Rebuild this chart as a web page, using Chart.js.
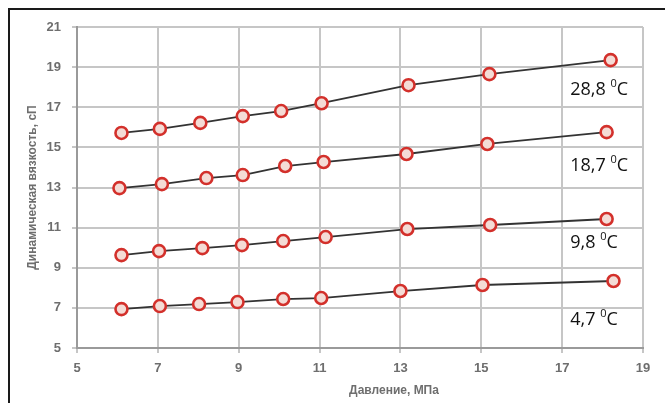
<!DOCTYPE html>
<html>
<head>
<meta charset="utf-8">
<script src="https://cdn.jsdelivr.net/npm/chart.js@4.4.1/dist/chart.umd.min.js"></script>
<style>
  html, body { margin: 0; padding: 0; background: #fff; }
  #wrap { position: relative; width: 665px; height: 403px; }
</style>
</head>
<body>
<div id="wrap"><canvas id="chart" width="665" height="403"></canvas></div>
<script>
// давление, МПа и вязкость, сП для каждой температуры
const temps = ['28,8', '18,7', '9,8', '4,7'];

const press288 = [6.1, 7.05, 8.05, 9.1, 10.05, 11.05, 13.2, 15.2, 18.2];
const visc288 = [15.72, 15.92, 16.22, 16.56, 16.81, 17.2, 18.1, 18.65, 19.35];

const press187 = [6.05, 7.1, 8.2, 9.1, 10.15, 11.1, 13.15, 15.15, 18.1];
const visc187 = [12.97, 13.17, 13.47, 13.62, 14.07, 14.27, 14.67, 15.17, 15.76];

const press98 = [6.1, 7.03, 8.1, 9.08, 10.1, 11.15, 13.17, 15.22, 18.1];
const visc98 = [9.63, 9.83, 9.98, 10.13, 10.33, 10.53, 10.93, 11.13, 11.43];

const press47 = [6.1, 7.05, 8.02, 8.97, 10.1, 11.04, 13.0, 15.03, 18.27];
const visc47 = [6.94, 7.09, 7.19, 7.29, 7.44, 7.49, 7.84, 8.14, 8.34];

// где стоят подписи температур (в единицах осей)
const labelPress = 17.2;
const labelVisc = [17.86, 14.07, 10.23, 6.39];

const xTicks = [5, 7, 9, 11, 13, 15, 17, 19];
const yTicks = [5, 7, 9, 11, 13, 15, 17, 19, 21];

const toPoints = (xs, ys) => xs.map((x, i) => ({ x: x, y: ys[i] }));
const allSeries = [
  toPoints(press288, visc288),
  toPoints(press187, visc187),
  toPoints(press98, visc98),
  toPoints(press47, visc47)
];

const datasets = allSeries.map((pts, i) => ({
  label: temps[i] + ' °C',
  data: pts,
  showLine: true,
  borderColor: '#333333',
  borderWidth: 1.8,
  tension: 0,
  pointRadius: 6,
  pointBorderWidth: 2.6,
  pointBorderColor: '#d3302b',
  pointBackgroundColor: '#f4dcd6'
}));

// рамка, подписи осей и температур
const decorPlugin = {
  id: 'decor',
  beforeDraw(chart) {
    const ctx = chart.ctx;
    ctx.save();
    ctx.strokeStyle = '#1a1a1a';
    ctx.lineWidth = 2;
    ctx.beginPath();
    ctx.moveTo(9, 403);
    ctx.lineTo(9, 9);
    ctx.lineTo(665, 9);
    ctx.stroke();
    ctx.restore();
  },
  afterDraw(chart) {
    const ctx = chart.ctx;
    const xs = chart.scales.x;
    const ys = chart.scales.y;
    ctx.save();
    ctx.fillStyle = '#6e6e6e';
    ctx.font = 'bold 12px "Liberation Sans", Arial, sans-serif';
    ctx.textAlign = 'center';
    ctx.textBaseline = 'middle';
    ctx.fillText('Давление, МПа', 394, 391);
    ctx.translate(33, (chart.chartArea.top + chart.chartArea.bottom) / 2);
    ctx.rotate(-Math.PI / 2);
    ctx.fillText('Динамическая вязкость, сП', 0, 0);
    ctx.restore();

    ctx.save();
    ctx.fillStyle = '#111';
    ctx.textBaseline = 'middle';
    ctx.textAlign = 'left';
    temps.forEach((t, i) => {
      const px = xs.getPixelForValue(labelPress);
      const py = ys.getPixelForValue(labelVisc[i]);
      ctx.font = '18px "Open Sans", "Noto Sans", sans-serif';
      const main = t + ' ';
      ctx.fillText(main, px, py);
      let w = ctx.measureText(main).width;
      ctx.font = '11px "Open Sans", "Noto Sans", sans-serif';
      ctx.fillText('0', px + w, py - 6);
      w += ctx.measureText('0').width;
      ctx.font = '18px "Open Sans", "Noto Sans", sans-serif';
      ctx.fillText('C', px + w, py);
    });
    ctx.restore();
  }
};

new Chart(document.getElementById('chart'), {
  type: 'scatter',
  data: { datasets: datasets },
  options: {
    responsive: false,
    animation: false,
    layout: { padding: { left: 0, right: 22, top: 27, bottom: 0 } },
    plugins: {
      legend: { display: false },
      tooltip: { enabled: false }
    },
    scales: {
      x: {
        type: 'linear',
        min: 5,
        max: 19,
        afterBuildTicks: (s) => { s.ticks = xTicks.map(v => ({ value: v })); },
        afterFit: (s) => { s.height = 55; },
        grid: { color: '#c6c6c6', lineWidth: 2, tickLength: 5 },
        border: { color: '#9a9a9a', width: 2 },
        ticks: {
          color: '#6e6e6e',
          padding: 8,
          font: { family: '"Liberation Sans", Arial, sans-serif', size: 13, weight: 'bold' }
        }
      },
      y: {
        type: 'linear',
        min: 5,
        max: 21,
        afterBuildTicks: (s) => { s.ticks = yTicks.map(v => ({ value: v })); },
        afterFit: (s) => { s.width = 77; },
        grid: { color: '#c6c6c6', lineWidth: 2, tickLength: 5 },
        border: { color: '#9a9a9a', width: 2 },
        ticks: {
          color: '#6e6e6e',
          padding: 11,
          font: { family: '"Liberation Sans", Arial, sans-serif', size: 13, weight: 'bold' }
        }
      }
    }
  },
  plugins: [decorPlugin]
});
</script>
</body>
</html>
